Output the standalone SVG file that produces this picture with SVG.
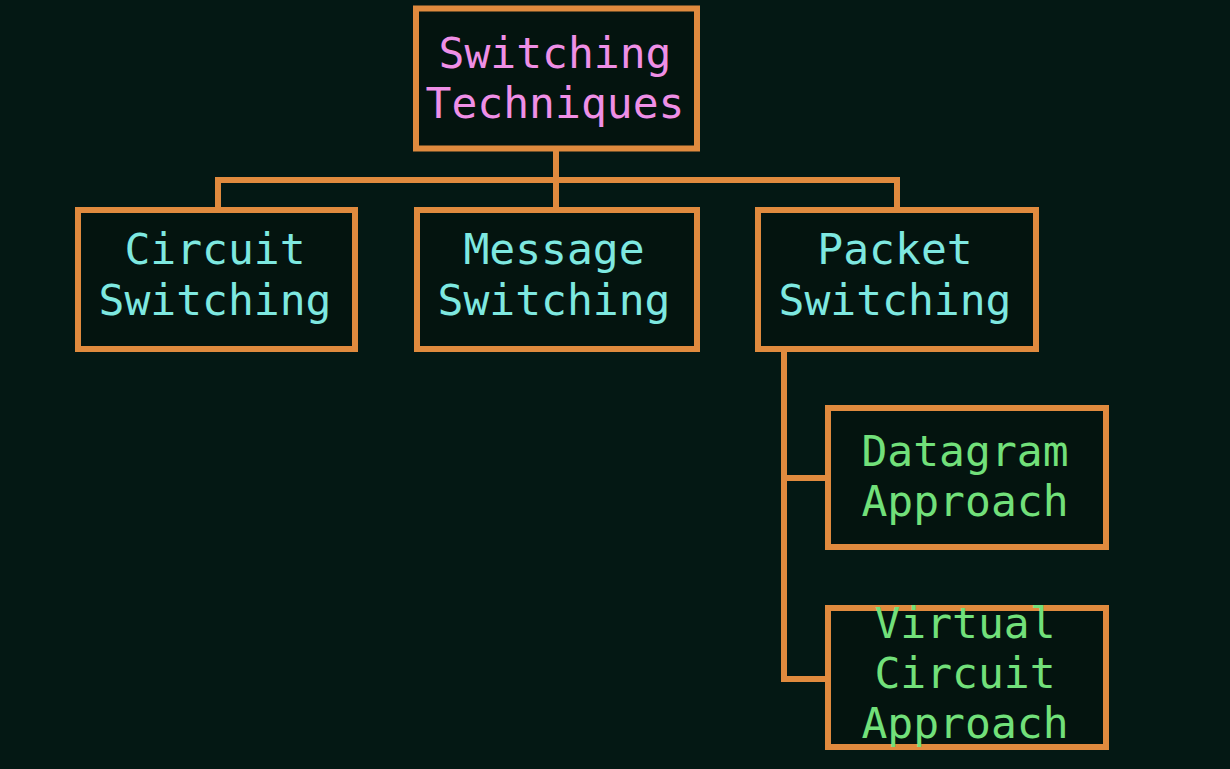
<svg xmlns="http://www.w3.org/2000/svg" width="1230" height="769" viewBox="0 0 1230 769">
<style>
.box{fill:#04140f;stroke:#e08a3e;stroke-width:6}
.conn{fill:none;stroke:#e08a3e;stroke-width:6;stroke-linejoin:miter}
text{font-family:"DejaVu Sans Mono","Liberation Mono",monospace;font-size:43px;text-anchor:middle}
.pink{fill:#ef8fe6}
.cyan{fill:#7ee8e0}
.green{fill:#72e07a}
</style>
<rect width="1230" height="769" fill="#041814"/>
<g id="connectors">
<path class="conn" d="M556 150 V208 M218 208 V180 H897 V208"/>
<path class="conn" d="M784 350 V679 H828 M784 478 H828"/>
</g>
<g id="root">
<rect class="box" x="416" y="8.5" width="281" height="140"/>
<text class="pink" x="555" y="68">Switching</text>
<text class="pink" x="555" y="118">Techniques</text>
</g>
<g id="circuit">
<rect class="box" x="78" y="210" width="277" height="139"/>
<text class="cyan" x="215" y="264">Circuit</text>
<text class="cyan" x="215" y="315">Switching</text>
</g>
<g id="message">
<rect class="box" x="417" y="210" width="280" height="139"/>
<text class="cyan" x="554" y="264">Message</text>
<text class="cyan" x="554" y="315">Switching</text>
</g>
<g id="packet">
<rect class="box" x="758" y="210" width="278" height="139"/>
<text class="cyan" x="895" y="264">Packet</text>
<text class="cyan" x="895" y="315">Switching</text>
</g>
<g id="datagram">
<rect class="box" x="828" y="408" width="278" height="139"/>
<text class="green" x="965" y="466">Datagram</text>
<text class="green" x="965" y="516">Approach</text>
</g>
<g id="virtual">
<rect class="box" x="828" y="608" width="278" height="139"/>
<text class="green" x="965" y="638">Virtual</text>
<text class="green" x="965" y="688">Circuit</text>
<text class="green" x="965" y="738">Approach</text>
</g>
</svg>
